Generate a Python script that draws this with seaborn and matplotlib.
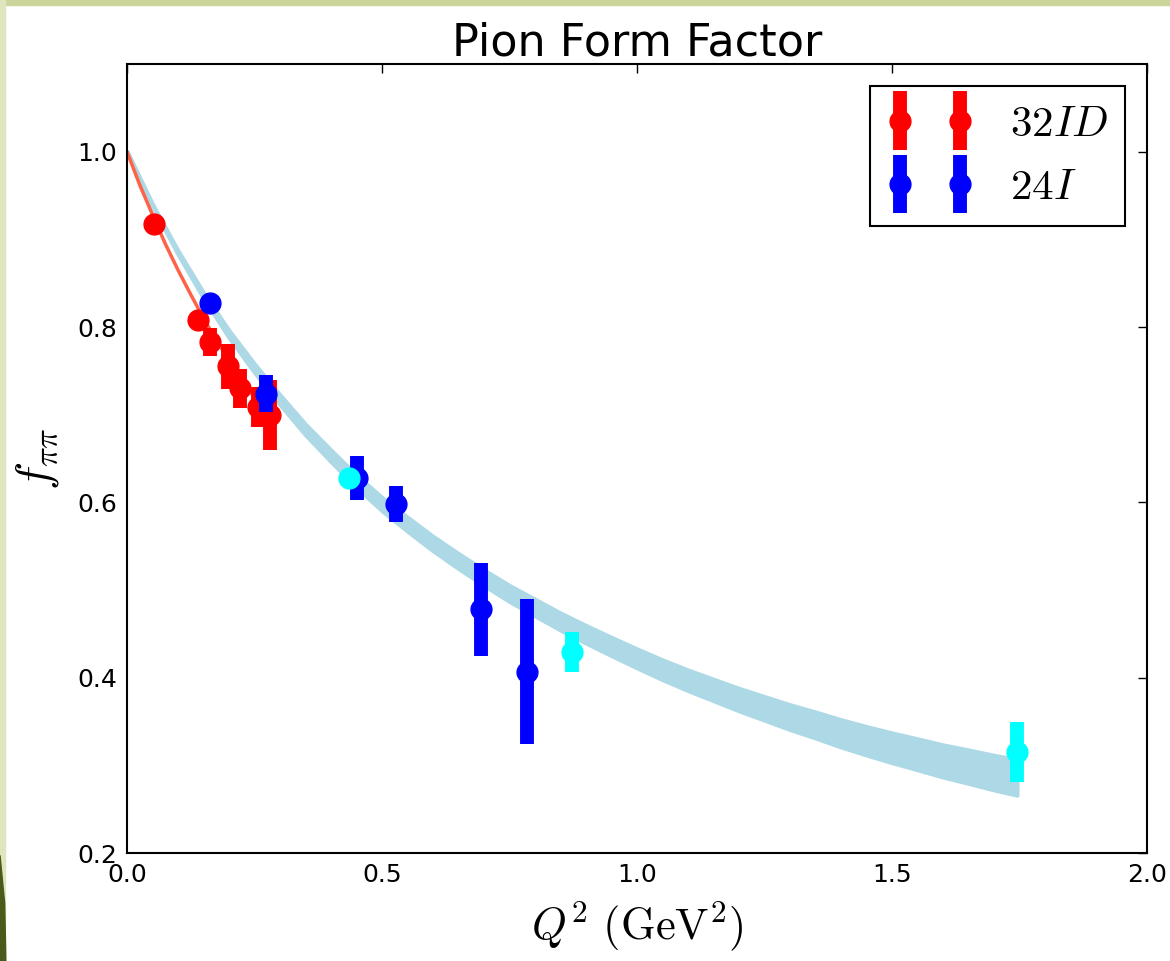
import numpy as np
import pandas as pd
import matplotlib
matplotlib.use("Agg")
import matplotlib.pyplot as plt
import seaborn as sns
from matplotlib.patches import Rectangle, Polygon
from matplotlib.container import ErrorbarContainer
from matplotlib.legend_handler import HandlerErrorbar

# lattice data (Q^2 in GeV^2)
q2_32ID = [0.053, 0.140, 0.163, 0.198, 0.222, 0.257, 0.280]
f_32ID = [0.917, 0.808, 0.783, 0.755, 0.730, 0.709, 0.700]
err_32ID = [0.003, 0.008, 0.016, 0.026, 0.022, 0.023, 0.040]

q2_24I = [0.163, 0.273, 0.451, 0.527, 0.694, 0.784]
f_24I = [0.827, 0.724, 0.628, 0.598, 0.478, 0.407]
err_24I = [0.004, 0.021, 0.025, 0.021, 0.053, 0.083]

q2_extra = [0.435, 0.873, 1.745]
f_extra = [0.628, 0.429, 0.315]
err_extra = [0.005, 0.023, 0.034]

# 32ID fit line
fit32_q2 = [0.0, 0.025, 0.05, 0.075, 0.10, 0.125, 0.15, 0.175, 0.20, 0.225, 0.25, 0.28]
fit32_f = [1.0, 0.962, 0.928, 0.895, 0.865, 0.837, 0.810, 0.785, 0.762, 0.740, 0.719, 0.698]

# light blue band (centre and half width)
band_q2 = [0.0, 0.05, 0.10, 0.15, 0.20, 0.25, 0.30, 0.35, 0.40, 0.45, 0.50,
           0.55, 0.60, 0.65, 0.70, 0.75, 0.80, 0.85, 0.90, 0.95, 1.00,
           1.05, 1.10, 1.15, 1.20, 1.25, 1.30, 1.35, 1.40, 1.45, 1.50,
           1.55, 1.60, 1.65, 1.70, 1.745]
band_mid = [1.0, 0.939, 0.885, 0.836, 0.792, 0.753, 0.717, 0.683, 0.653, 0.624, 0.598,
            0.575, 0.553, 0.533, 0.514, 0.496, 0.480, 0.464, 0.4495, 0.4355, 0.422,
            0.409, 0.397, 0.386, 0.375, 0.365, 0.355, 0.346, 0.3365, 0.328, 0.320,
            0.3126, 0.305, 0.2985, 0.2917, 0.2863]
band_half = [0.0, 0.001, 0.002, 0.003, 0.004, 0.0048, 0.0055, 0.006, 0.0065, 0.007, 0.0075,
             0.0079, 0.0082, 0.0085, 0.0088, 0.0091, 0.0094, 0.0097, 0.0100, 0.0104, 0.0108,
             0.0112, 0.0117, 0.0122, 0.0128, 0.0134, 0.0141, 0.0148, 0.0155, 0.0162, 0.0169,
             0.0176, 0.0183, 0.0190, 0.0197, 0.0203]

sns.set_style("white")
plt.rcParams['font.family'] = ['DejaVu Sans']
plt.rcParams['mathtext.fontset'] = 'cm'
plt.rcParams['text.color'] = 'black'
plt.rcParams['axes.labelcolor'] = 'black'

fig = plt.figure(figsize=(11.7, 9.61), dpi=100)
# slide frame around the figure
fig.patches.append(Rectangle((0, 0.9945), 1, 0.0055, transform=fig.transFigure,
                             color='#cbd49b', zorder=0))
fig.patches.append(Rectangle((0, 0), 0.0043, 1, transform=fig.transFigure,
                             color='#dfe5bf', zorder=0))
fig.patches.append(Polygon([[0, 0.11], [0.004, 0.06], [0.005, 0.0], [0, 0]],
                           closed=True, transform=fig.transFigure, color='#4a5a1a', zorder=0))

ax = fig.add_axes([0.10855, 0.11238, 0.87179, 0.82102])

band = pd.DataFrame({'q2': band_q2, 'mid': band_mid, 'half': band_half})
ax.fill_between(band['q2'], band['mid'] - band['half'], band['mid'] + band['half'],
                color='lightblue', edgecolor='lightblue', linewidth=3, zorder=1)

fit32 = pd.DataFrame({'q2': fit32_q2, 'f': fit32_f})
sns.lineplot(data=fit32, x='q2', y='f', color='tomato', linewidth=2.5, ax=ax, zorder=2)

eb = dict(fmt='o', markersize=15, elinewidth=10, capsize=0)
ax.errorbar(q2_32ID, f_32ID, yerr=err_32ID, color='red', mec='red', label=r'$32ID$', zorder=3, **eb)
ax.errorbar(q2_24I, f_24I, yerr=err_24I, color='blue', mec='blue', label=r'$24I$', zorder=4, **eb)
ax.errorbar(q2_extra, f_extra, yerr=err_extra, color='cyan', mec='cyan', zorder=5, **eb)

ax.set_xlim(0, 2.0)
ax.set_ylim(0.2, 1.1)
ax.set_xticks([0.0, 0.5, 1.0, 1.5, 2.0])
ax.set_yticks([0.2, 0.4, 0.6, 0.8, 1.0])
ax.tick_params(direction='in', length=6.5, width=1, top=True, right=True,
               labelsize=18, pad=7, colors='black')
for s in ax.spines.values():
    s.set_linewidth(1.5)
    s.set_color('black')

ax.set_title('Pion Form Factor', fontsize=32, pad=6, color='black')
ax.set_xlabel(r'$Q^2\ (\mathrm{GeV}^2)$', fontsize=32, labelpad=9)
ax.set_ylabel(r'$f_{\pi\pi}$', fontsize=34, labelpad=12)

leg = ax.legend(loc='upper right', numpoints=2, fontsize=31, frameon=True,
                fancybox=False, framealpha=1, edgecolor='black', handletextpad=0.85,
                handler_map={ErrorbarContainer: HandlerErrorbar(yerr_size=0.68)})
leg.get_frame().set_linewidth(1.5)

fig.savefig('out.png', dpi=100)
